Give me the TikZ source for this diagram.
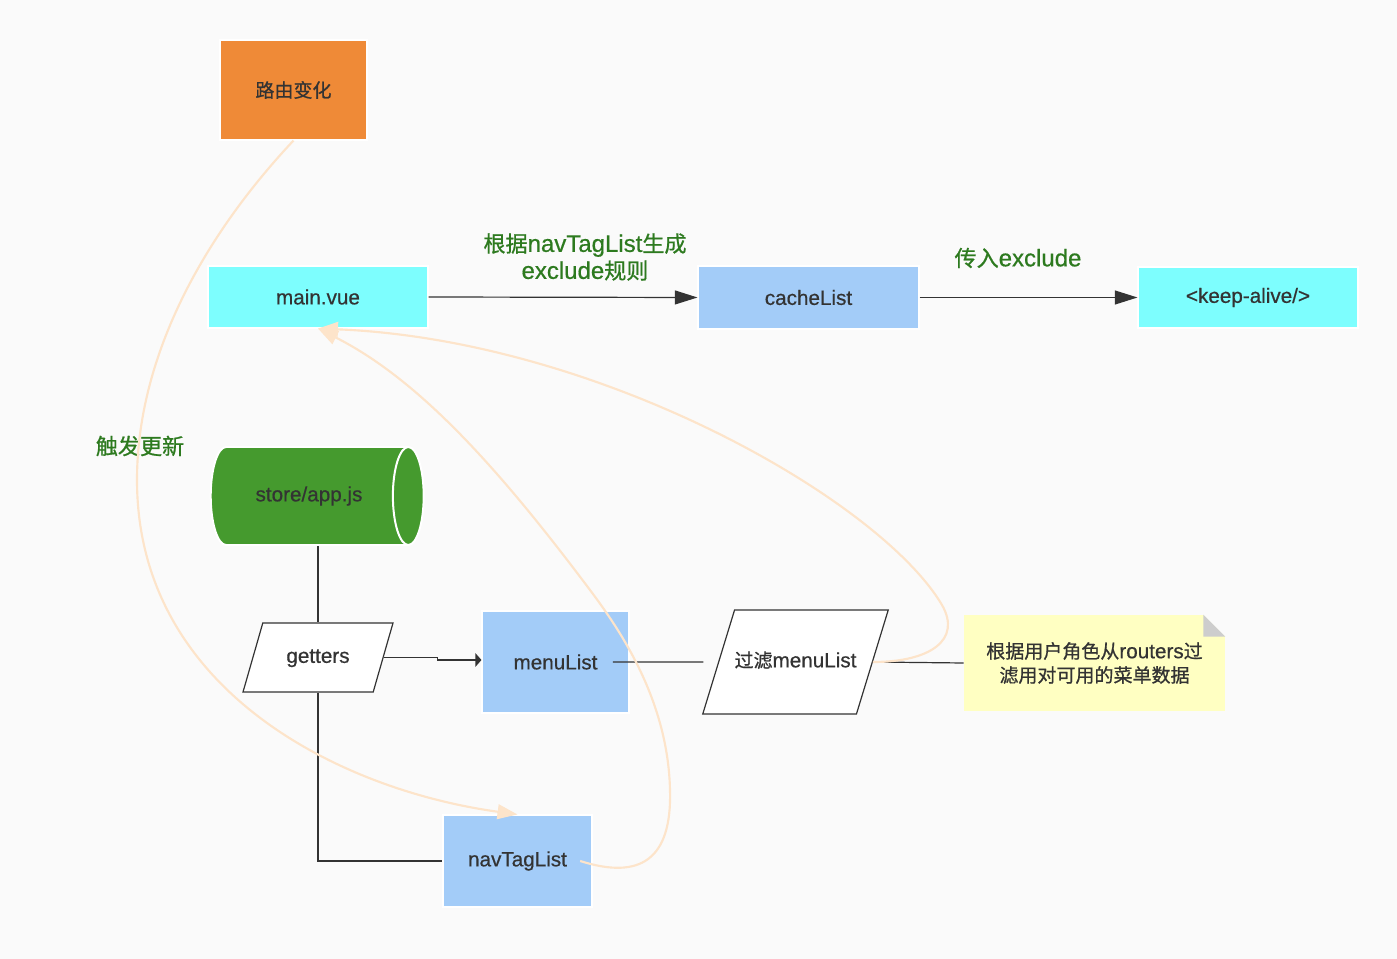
\documentclass[tikz,border=0pt]{standalone}
\usepackage{fontspec}
\setmainfont{Liberation Sans}[FakeBold=0.6]
\newfontfamily\cjk[Scale=0.92,FakeBold=0.8]{Noto Sans CJK SC}
\newcommand{\zh}[1]{{\cjk #1}}
\usetikzlibrary{arrows.meta,shapes.geometric,positioning}
\definecolor{bgc}{HTML}{FAFAFA}
\definecolor{txt}{HTML}{333333}
\definecolor{lbl}{HTML}{2D7A1F}
\definecolor{routec}{HTML}{EF8A37}
\definecolor{cyanc}{HTML}{7DFEFE}
\definecolor{bluec}{HTML}{A3CCF8}
\definecolor{storec}{HTML}{459A2E}
\definecolor{notec}{HTML}{FFFFC2}
\definecolor{foldc}{HTML}{CDCDCD}
\definecolor{peach}{HTML}{FDE4CA}
\begin{document}
\begin{tikzpicture}[x=0.75pt,y=-0.75pt,
  every node/.style={text=txt,font=\fontsize{15.5}{18}\selectfont},
  box/.style={rectangle,draw=white,line width=0.8pt,inner sep=0pt},
  para/.style={trapezium,trapezium stretches body=true,draw=txt,fill=white,line width=0.9pt,inner xsep=0pt,text height=11pt,text depth=3pt},
  lab/.style={text=lbl,font=\fontsize{18}{20.25}\selectfont,align=center},
  link/.style={draw=txt,line width=0.9pt},
  trig/.style={draw=peach,line width=1.6pt,-{Triangle[length=15pt,width=11pt]}}]
  \fill[bgc] (0,0) rectangle (1397,959);
  \useasboundingbox (0,0) rectangle (1397,959);
  \node[box,fill=routec,minimum width=110.25pt,minimum height=75pt] (route) at (293.5,90) {\zh{路由变化}};
  \node[box,fill=cyanc,minimum width=165pt,minimum height=46.5pt] (main) at (318,297) {main.vue};
  \node[box,fill=bluec,minimum width=165.75pt,minimum height=47.25pt] (cache) at (808.5,297.5) {cacheList};
  \node[box,fill=cyanc,minimum width=165pt,minimum height=45.75pt] (keep) at (1248,297.5) {<keep-alive/>};
  \node[cylinder,draw=white,line width=1.5pt,fill=storec,aspect=1.6,minimum width=73.5pt,minimum height=159.75pt,inner sep=0pt] (store) at (309,496) {store/app.js};
  \node[para,trapezium left angle=74,trapezium right angle=106,minimum width=112.5pt,inner ysep=18.9pt] (getters) at (318,657.5) {getters};
  \node[box,fill=bluec,minimum width=110.25pt,minimum height=76.5pt] (menu) at (555.5,662) {menuList};
  \node[para,trapezium left angle=73,trapezium right angle=107,minimum width=134.25pt,inner ysep=32pt] (filter) at (795.5,662) {\zh{过滤}menuList};
  \node[fill=notec,minimum width=195.75pt,minimum height=72pt,align=center] (note) at (1094.5,663) {\zh{根据用户角色从}routers\zh{过}\\\zh{滤用对可用的菜单数据}};
  \fill[bgc] ([xshift=-16.5pt]note.north east) -- (note.north east) -- ([yshift=-16.5pt]note.north east) -- cycle;
  \fill[foldc] ([xshift=-16.5pt]note.north east) -- ([yshift=-16.5pt]note.north east) -- ([xshift=-16.5pt,yshift=-16.5pt]note.north east) -- cycle;
  \node[box,fill=bluec,minimum width=111.75pt,minimum height=69pt] (nav) at (517.5,861) {navTagList};
  \node[lab] (rule) at (585,257) {\zh{根据}navTagList\zh{生成}\\exclude\zh{规则}};
  \node[lab] (pass) at (1018,258) {\zh{传入}exclude};
  \node[lab] (fire) at (140,446) {\zh{触发更新}};
  \draw[link,-{Triangle[length=17pt,width=10.5pt]}] (main.east) -- (cache.west);
  \draw[link,-{Triangle[length=17pt,width=10.5pt]}] (cache.east) -- (keep.west);
  \draw[link] (getters.north |- store.south) -- (getters.north);
  \draw[link,-{Triangle[length=4.5pt,width=10pt]}] (getters.east) -- ++(54,0) |- ([yshift=1.5pt]menu.west);
  \draw[link] ([xshift=43pt]menu.center) -- ([xshift=-11pt]filter.west);
  \draw[link] (filter.east) -- (note.west);
  \draw[link] (getters.south) |- (nav.west);
  \draw[trig] (route.south) .. controls (200,240) and (137,360) .. (137,480) .. controls (137,690) and (340,790) .. (nav.north);
  \draw[trig] ([xshift=47pt]nav.center) .. controls (640,880) and (672,860) .. (670,790) .. controls (668,700) and (620,630) .. (590,590) .. controls (500,470) and (420,380) .. (main.south);
  \draw[trig] (filter.east) .. controls (930,662) and (962,640) .. (942,605) .. controls (880,500) and (600,340) .. (main.south);
\end{tikzpicture}
\end{document}
